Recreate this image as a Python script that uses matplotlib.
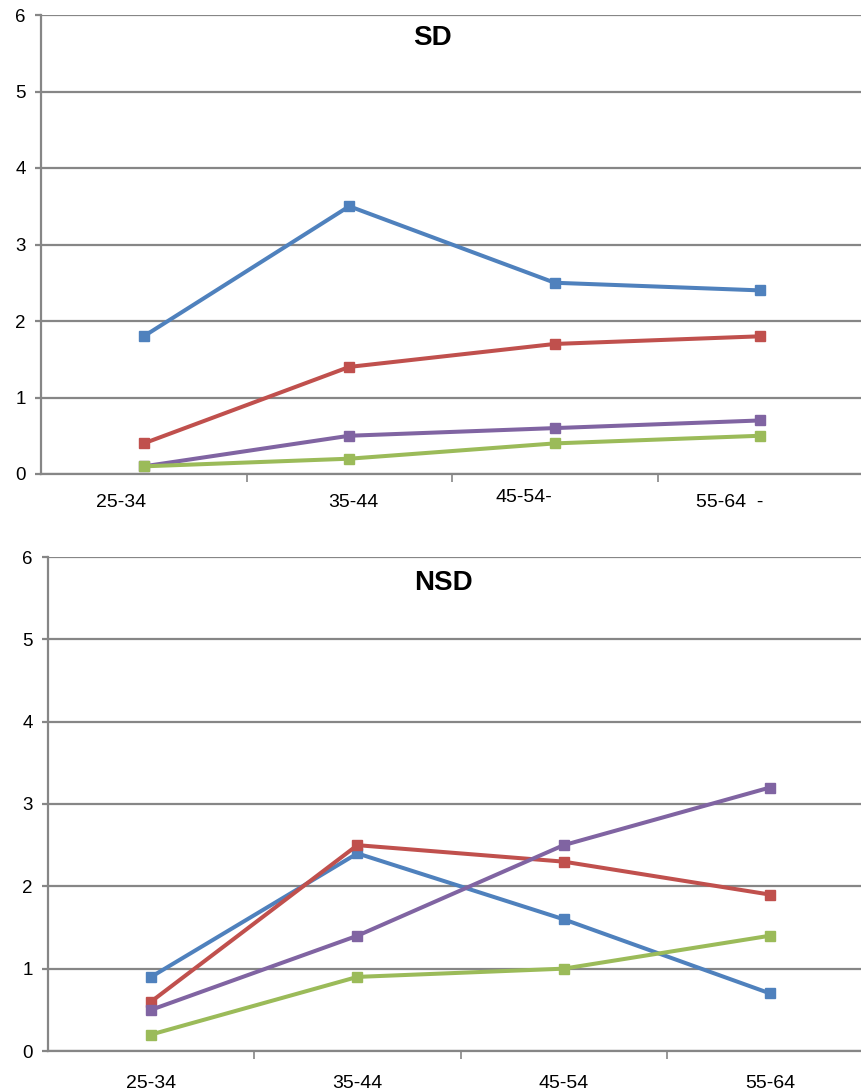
import matplotlib
matplotlib.use("Agg")
import matplotlib.pyplot as plt
import matplotlib.transforms as mtransforms

plt.rcParams['font.family'] = ['Liberation Sans Narrow', 'Liberation Sans', 'DejaVu Sans']

age_groups = ["25-34", "35-44", "45-54", "55-64"]
sd_labels = ["25-34", "35-44", "45-54-", "55-64  -"]

sd_blue = [1.8, 3.5, 2.5, 2.4]
sd_red = [0.4, 1.4, 1.7, 1.8]
sd_purple = [0.1, 0.5, 0.6, 0.7]
sd_green = [0.1, 0.2, 0.4, 0.5]

nsd_blue = [0.9, 2.4, 1.6, 0.7]
nsd_red = [0.6, 2.5, 2.3, 1.9]
nsd_purple = [0.5, 1.4, 2.5, 3.2]
nsd_green = [0.2, 0.9, 1.0, 1.4]

colors = {"blue": "#4F81BD", "red": "#C0504D", "purple": "#8064A2", "green": "#9BBB59"}
grid_c = "#868686"

fig = plt.figure(figsize=(8.61, 10.91), dpi=100)
ax1 = fig.add_axes([41/861, 1-474/1091, 822/861, 459/1091])
ax2 = fig.add_axes([48/861, 1-1051/1091, 825/861, 494/1091])


def style(ax, title, title_x, title_y):
    ax.set_xlim(-0.5, 3.5)
    ax.set_ylim(0, 6)
    ax.set_yticks(range(0, 7))
    ax.yaxis.grid(True, color=grid_c, linewidth=1.6)
    ax.set_axisbelow(True)
    for s in ("top", "right"):
        ax.spines[s].set_visible(False)
    for s in ("left", "bottom"):
        ax.spines[s].set_color(grid_c)
        ax.spines[s].set_linewidth(1.6)
    ax.spines["bottom"].set_zorder(1)
    ax.tick_params(axis="y", length=4, width=1.6, color=grid_c, pad=7, labelsize=13.5)
    ax.set_xticks([0.5, 1.5, 2.5])
    ax.set_xticklabels([])
    ax.tick_params(axis="x", length=6, width=1.2, color=grid_c, direction="out")
    ax.text(title_x, title_y, title, transform=ax.transAxes, ha="center", va="center",
            fontsize=20, fontweight="bold", family=["Liberation Sans", "DejaVu Sans"])


def draw(ax, series):
    xs = range(len(age_groups))
    for vals, key in series:
        ax.plot(xs, vals, color=colors[key], linewidth=2.9, marker="s",
                markersize=6.5, clip_on=False, zorder=3)


style(ax1, "SD", (432-41)/822, 0.95)
draw(ax1, [(sd_blue, "blue"), (sd_red, "red"), (sd_purple, "purple"), (sd_green, "green")])

style(ax2, "NSD", (443-48)/825, 0.947)
draw(ax2, [(nsd_blue, "blue"), (nsd_red, "red"), (nsd_purple, "purple"), (nsd_green, "green")])

# Category labels for the upper panel sit slightly off their points
trans1 = mtransforms.blended_transform_factory(ax1.transData, ax1.transAxes)
sd_offsets = [(-0.11, -0.062), (0.02, -0.062), (-0.15, -0.052), (-0.15, -0.062)]
for i, (lab, (dx, y)) in enumerate(zip(sd_labels, sd_offsets)):
    ax1.text(i + dx, y, lab, transform=trans1, ha="center", va="center", fontsize=14)

trans2 = mtransforms.blended_transform_factory(ax2.transData, ax2.transAxes)
for i, lab in enumerate(age_groups):
    ax2.text(i, -0.065, lab, transform=trans2, ha="center", va="center", fontsize=14)

fig.savefig("out.png", dpi=100)
